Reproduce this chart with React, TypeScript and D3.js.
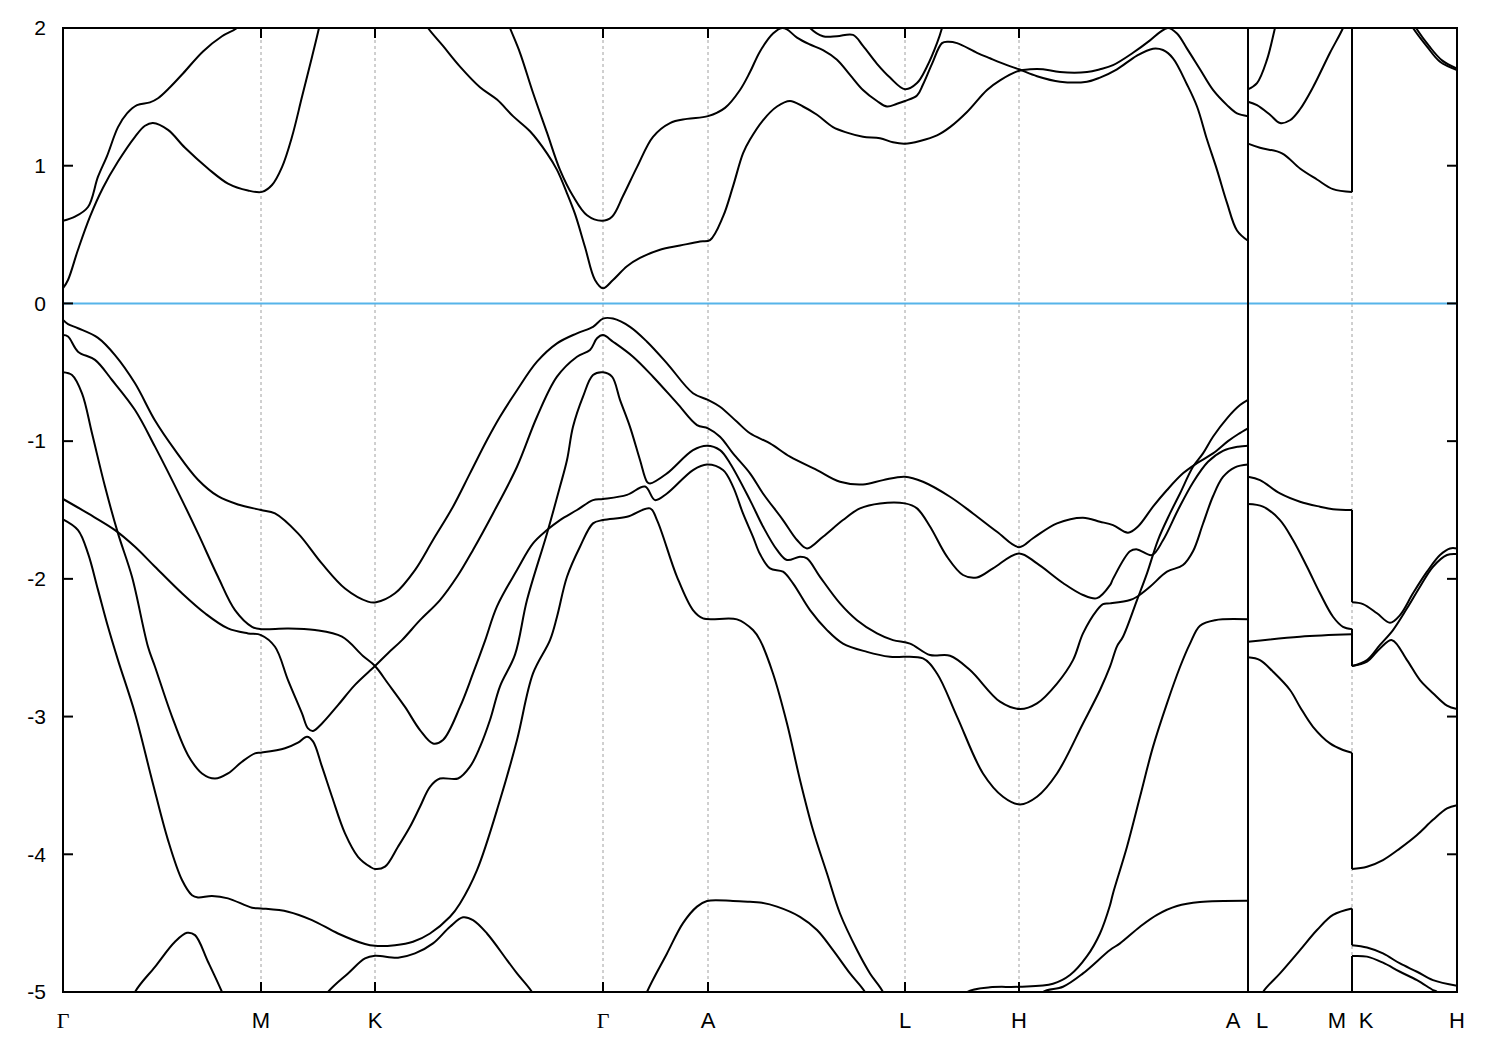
import React from 'react';
import * as d3 from 'd3';

// k-path positions of the high-symmetry points (path length units)
const kPoints = [0, 198, 312, 540, 645, 842, 956, 1185, 1289, 1394];
const kLabels = ['Γ', 'M', 'K', 'Γ', 'A', 'L', 'H', 'A|L', 'M|K', 'H'];
const fullBreaks = [1185];
const yTicks = [-5, -4, -3, -2, -1, 0, 1, 2];
const eRange = [-5, 2];

// ---------- conduction bands ----------
const CA = [[0,0.11],[5,0.17],[15,0.39],[27,0.63],[40,0.84],[55,1.03],[72,1.21],[82,1.29],[90,1.31],[105,1.26],[122,1.13],[145,0.98],[165,0.87],[185,0.82],[199,0.81],[209,0.86],[219,0.99],[229,1.21],[239,1.50],[249,1.79],[256,2.0],[262,2.2]];
const CB = [[0,0.60],[12,0.63],[25,0.70],[35,0.92],[44,1.07],[55,1.28],[64,1.38],[74,1.44],[87,1.46],[95,1.49],[107,1.57],[120,1.67],[140,1.83],[159,1.94],[174,2.0],[187,2.1]];
const CC = [[357,2.1],[365,2.0],[380,1.87],[397,1.72],[417,1.57],[434,1.48],[450,1.36],[467,1.25],[484,1.09],[494,0.97],[504,0.80],[512,0.65],[522,0.41],[532,0.17],[540,0.11],[550,0.17],[564,0.27],[577,0.33],[597,0.39],[617,0.42],[637,0.45],[647,0.46],[660,0.63],[670,0.85],[680,1.09],[687,1.19],[700,1.33],[714,1.43],[727,1.47],[740,1.43],[754,1.37],[770,1.28],[784,1.24],[800,1.21],[817,1.20],[830,1.17],[842,1.16],[857,1.18],[874,1.22],[887,1.28],[904,1.39],[924,1.55],[937,1.62],[956,1.69],[967,1.70],[980,1.70],[997,1.68],[1024,1.68],[1037,1.70],[1050,1.73],[1070,1.82],[1087,1.91],[1097,1.97],[1105,2.0],[1114,1.96],[1124,1.85],[1137,1.70],[1150,1.55],[1164,1.44],[1174,1.38],[1185,1.36]];
const CD = [[442,2.1],[447,2.0],[457,1.82],[470,1.53],[484,1.24],[497,0.97],[510,0.78],[524,0.64],[539,0.60],[549,0.63],[560,0.78],[574,0.99],[590,1.21],[607,1.31],[624,1.34],[645,1.36],[662,1.42],[677,1.55],[687,1.68],[697,1.83],[710,1.96],[719,2.0],[724,1.99],[734,1.93],[747,1.88],[760,1.84],[774,1.77],[787,1.66],[800,1.55],[814,1.47],[824,1.43],[834,1.45],[842,1.47],[854,1.51],[860,1.59],[869,1.74],[879,1.89],[885,1.90],[894,1.89],[914,1.82],[927,1.78],[944,1.73],[956,1.70],[974,1.65],[997,1.61],[1024,1.61],[1037,1.64],[1054,1.70],[1074,1.80],[1090,1.85],[1100,1.84],[1110,1.78],[1124,1.59],[1134,1.43],[1144,1.19],[1154,0.97],[1164,0.73],[1174,0.53],[1185,0.455]];
const CE = [[737,2.1],[747,2.0],[760,1.94],[774,1.94],[790,1.95],[800,1.87],[814,1.74],[827,1.64],[842,1.555],[854,1.60],[864,1.72],[874,1.89],[879,2.0],[882,2.1]];
const RL1 = [[1185,1.555],[1194,1.60],[1204,1.77],[1212,2.0],[1217,2.15]];
const RL2 = [[1185,1.465],[1194,1.44],[1207,1.37],[1217,1.31],[1227,1.33],[1237,1.41],[1250,1.57],[1267,1.82],[1280,2.0],[1285,2.1]];
const RL3 = [[1185,1.16],[1197,1.13],[1219,1.09],[1237,0.98],[1254,0.90],[1270,0.83],[1289,0.81],[1289,2.2]];
const RK1 = [[1342,2.1],[1350,2.0],[1364,1.865],[1377,1.755],[1394,1.695]];
const RK2 = [[1345,2.1],[1353,2.0],[1366,1.87],[1379,1.765],[1394,1.705]];

// ---------- valence bands ----------
const VA = [[0,-0.12],[5,-0.15],[15,-0.18],[35,-0.25],[52,-0.375],[72,-0.58],[92,-0.85],[112,-1.065],[135,-1.28],[155,-1.40],[175,-1.46],[198,-1.50],[212,-1.525],[235,-1.67],[259,-1.89],[282,-2.07],[305,-2.165],[313,-2.17],[332,-2.105],[352,-1.936],[370,-1.718],[390,-1.476],[407,-1.234],[424,-0.992],[437,-0.823],[454,-0.63],[474,-0.423],[494,-0.29],[514,-0.217],[530,-0.17],[540,-0.11],[550,-0.11],[567,-0.17],[584,-0.278],[604,-0.435],[630,-0.652],[645,-0.70],[657,-0.75],[674,-0.86],[687,-0.943],[707,-1.016],[727,-1.113],[754,-1.21],[777,-1.295],[800,-1.314],[820,-1.283],[842,-1.258],[860,-1.295],[887,-1.404],[910,-1.525],[934,-1.658],[956,-1.77],[970,-1.705],[994,-1.597],[1020,-1.556],[1037,-1.585],[1050,-1.61],[1065,-1.665],[1075,-1.62],[1090,-1.476],[1104,-1.355],[1120,-1.234],[1134,-1.16],[1150,-1.089],[1165,-1.0],[1175,-0.95],[1185,-0.907]];
const VB = [[0,-0.23],[5,-0.24],[15,-0.35],[32,-0.41],[49,-0.556],[72,-0.774],[92,-1.04],[119,-1.428],[135,-1.67],[155,-1.985],[172,-2.227],[189,-2.348],[198,-2.365],[225,-2.36],[252,-2.372],[279,-2.42],[300,-2.56],[312,-2.633],[325,-2.76],[342,-2.93],[357,-3.098],[370,-3.195],[380,-3.17],[397,-2.93],[410,-2.687],[422,-2.45],[434,-2.20],[454,-1.936],[470,-1.743],[484,-1.646],[497,-1.573],[514,-1.50],[530,-1.428],[540,-1.42],[564,-1.39],[582,-1.33],[592,-1.428],[604,-1.38],[630,-1.21],[644,-1.17],[660,-1.21],[670,-1.33],[680,-1.525],[690,-1.695],[697,-1.82],[707,-1.924],[720,-1.948],[730,-2.033],[747,-2.227],[764,-2.372],[780,-2.47],[804,-2.53],[827,-2.566],[860,-2.578],[874,-2.687],[894,-3.0],[920,-3.413],[940,-3.582],[957,-3.638],[974,-3.582],[994,-3.413],[1020,-3.05],[1037,-2.807],[1047,-2.638],[1054,-2.49],[1060,-2.42],[1074,-2.154],[1084,-1.96],[1095,-1.718],[1107,-1.525],[1117,-1.38],[1130,-1.186],[1140,-1.089],[1150,-0.968],[1164,-0.834],[1177,-0.738],[1185,-0.70]];
const VC = [[0,-1.42],[25,-1.525],[52,-1.646],[72,-1.767],[92,-1.912],[119,-2.105],[142,-2.25],[165,-2.36],[185,-2.396],[198,-2.408],[212,-2.493],[225,-2.735],[239,-2.977],[245,-3.086],[250,-3.104],[259,-3.05],[275,-2.917],[292,-2.77],[312,-2.633],[325,-2.54],[339,-2.445],[357,-2.30],[377,-2.154],[394,-1.985],[410,-1.79],[430,-1.525],[454,-1.186],[474,-0.823],[494,-0.532],[514,-0.387],[527,-0.338],[534,-0.253],[540,-0.23],[550,-0.278],[570,-0.387],[590,-0.532],[614,-0.724],[634,-0.883],[645,-0.907],[657,-0.968],[670,-1.089],[687,-1.234],[700,-1.38],[720,-1.573],[734,-1.718],[744,-1.779],[760,-1.694],[780,-1.573],[797,-1.488],[817,-1.452],[842,-1.452],[854,-1.488],[867,-1.62],[884,-1.839],[900,-1.972],[914,-1.99],[930,-1.924],[956,-1.815],[974,-1.888],[1000,-2.03],[1020,-2.117],[1034,-2.14],[1047,-2.045],[1050,-2.0],[1067,-1.80],[1074,-1.786],[1089,-1.827],[1100,-1.72],[1115,-1.50],[1130,-1.30],[1145,-1.15],[1160,-1.07],[1175,-1.04],[1185,-1.033]];
const VD = [[0,-0.50],[9,-0.52],[19,-0.653],[29,-0.943],[42,-1.33],[55,-1.67],[69,-1.985],[85,-2.493],[92,-2.638],[109,-3.0],[125,-3.28],[139,-3.413],[152,-3.45],[165,-3.413],[179,-3.328],[192,-3.267],[198,-3.262],[222,-3.23],[235,-3.19],[244,-3.146],[250,-3.18],[259,-3.364],[269,-3.582],[282,-3.848],[295,-4.018],[307,-4.09],[312,-4.107],[322,-4.09],[335,-3.945],[347,-3.80],[357,-3.655],[367,-3.51],[377,-3.45],[395,-3.45],[407,-3.364],[417,-3.22],[427,-3.025],[437,-2.78],[452,-2.55],[464,-2.154],[484,-1.67],[497,-1.33],[504,-1.137],[510,-0.896],[520,-0.677],[530,-0.52],[540,-0.50],[549,-0.532],[557,-0.70],[567,-0.896],[577,-1.137],[584,-1.295],[587,-1.307],[604,-1.234],[630,-1.065],[644,-1.033],[657,-1.065],[667,-1.16],[687,-1.428],[700,-1.62],[714,-1.79],[724,-1.863],[737,-1.839],[744,-1.851],[757,-1.985],[777,-2.178],[794,-2.30],[814,-2.396],[830,-2.445],[847,-2.47],[867,-2.553],[887,-2.558],[907,-2.662],[937,-2.892],[957,-2.945],[974,-2.904],[994,-2.76],[1010,-2.59],[1020,-2.396],[1034,-2.227],[1040,-2.183],[1047,-2.178],[1067,-2.154],[1074,-2.13],[1087,-2.057],[1104,-1.948],[1120,-1.90],[1130,-1.80],[1140,-1.60],[1150,-1.40],[1160,-1.26],[1172,-1.19],[1185,-1.17]];
const VE = [[0,-1.568],[15,-1.646],[25,-1.815],[35,-2.08],[45,-2.348],[55,-2.59],[72,-2.977],[89,-3.46],[105,-3.897],[119,-4.187],[129,-4.297],[135,-4.313],[149,-4.303],[165,-4.32],[189,-4.388],[198,-4.393],[225,-4.417],[249,-4.478],[275,-4.575],[302,-4.652],[312,-4.665],[332,-4.66],[350,-4.635],[367,-4.575],[387,-4.454],[397,-4.357],[414,-4.115],[437,-3.606],[454,-3.17],[470,-2.687],[487,-2.445],[494,-2.275],[504,-1.985],[517,-1.767],[530,-1.597],[540,-1.573],[564,-1.549],[587,-1.488],[594,-1.573],[614,-1.985],[630,-2.227],[640,-2.287],[674,-2.294],[690,-2.372],[697,-2.445],[710,-2.687],[724,-3.05],[737,-3.46],[750,-3.824],[764,-4.14],[777,-4.43],[794,-4.695],[807,-4.865],[820,-5.0],[830,-5.2]];
const VF = [[62,-5.2],[72,-5.0],[92,-4.817],[112,-4.635],[124,-4.57],[132,-4.587],[145,-4.78],[159,-5.0],[167,-5.15]];
const VG = [[252,-5.15],[265,-5.0],[285,-4.865],[302,-4.756],[312,-4.737],[335,-4.751],[352,-4.72],[370,-4.647],[387,-4.526],[400,-4.458],[410,-4.478],[424,-4.575],[444,-4.768],[454,-4.865],[469,-5.0],[477,-5.12]];
const VH = [[577,-5.15],[584,-5.0],[604,-4.72],[620,-4.50],[634,-4.38],[644,-4.339],[670,-4.339],[687,-4.345],[697,-4.35],[714,-4.38],[737,-4.454],[754,-4.55],[770,-4.696],[787,-4.865],[802,-5.0],[812,-5.15]];
const VI = [[892,-5.1],[904,-5.0],[927,-4.966],[956,-4.962],[990,-4.94],[1007,-4.877],[1024,-4.74],[1037,-4.575],[1047,-4.37],[1050,-4.284],[1064,-3.945],[1077,-3.582],[1090,-3.22],[1104,-2.904],[1117,-2.64],[1127,-2.47],[1137,-2.34],[1152,-2.30],[1185,-2.294]];
const VJ = [[972,-5.1],[980,-5.0],[1000,-4.962],[1020,-4.865],[1047,-4.695],[1057,-4.647],[1077,-4.526],[1094,-4.44],[1114,-4.376],[1137,-4.347],[1185,-4.338]];
const RV1 = [[1185,-1.258],[1197,-1.283],[1217,-1.38],[1237,-1.44],[1257,-1.476],[1270,-1.494],[1289,-1.50],[1289,-2.17],[1300,-2.183],[1314,-2.25],[1327,-2.319],[1337,-2.263],[1350,-2.105],[1364,-1.948],[1377,-1.827],[1387,-1.779],[1394,-1.779]];
const RV2 = [[1185,-1.457],[1200,-1.476],[1217,-1.573],[1230,-1.718],[1244,-1.912],[1257,-2.105],[1270,-2.275],[1280,-2.348],[1289,-2.365],[1289,-2.633],[1304,-2.59],[1317,-2.48],[1330,-2.372],[1344,-2.214],[1357,-2.057],[1370,-1.912],[1384,-1.827],[1394,-1.82]];
const RV3 = [[1185,-2.457],[1237,-2.42],[1289,-2.403],[1289,-2.633],[1304,-2.602],[1317,-2.505],[1329,-2.445],[1344,-2.59],[1357,-2.735],[1370,-2.83],[1384,-2.92],[1394,-2.945]];
const RV4 = [[1185,-2.57],[1197,-2.59],[1210,-2.674],[1227,-2.807],[1237,-2.93],[1250,-3.074],[1267,-3.195],[1280,-3.243],[1289,-3.262],[1289,-4.107],[1304,-4.09],[1320,-4.042],[1337,-3.957],[1354,-3.86],[1370,-3.75],[1384,-3.667],[1394,-3.643]];
const RV5 = [[1195,-5.1],[1200,-5.0],[1217,-4.865],[1237,-4.696],[1254,-4.55],[1270,-4.44],[1289,-4.393],[1289,-4.66],[1304,-4.677],[1320,-4.72],[1337,-4.793],[1354,-4.853],[1370,-4.914],[1394,-4.955]];
const RV6 = [[1289,-5.2],[1289,-4.739],[1304,-4.743],[1320,-4.787],[1337,-4.853],[1354,-4.914],[1370,-4.986],[1374,-5.0],[1382,-5.1]];

const bands = [CA, CB, CC, CD, CE, RL1, RL2, RL3, RK1, RK2, VA, VB, VC, VD, VE, VF, VG, VH, VI, VJ, RV1, RV2, RV3, RV4, RV5, RV6];

const PLOT = { left: 63, right: 1457, top: 28, bottom: 992 };

export default function App() {
  const x = d3.scaleLinear().domain([kPoints[0], kPoints[kPoints.length - 1]]).range([PLOT.left, PLOT.right]);
  const y = d3.scaleLinear().domain(eRange).range([PLOT.bottom, PLOT.top]);
  const smooth = d3.line().x((d) => x(d[0])).y((d) => y(d[1])).curve(d3.curveCatmullRom.alpha(0.5));
  const straight = d3.line().x((d) => x(d[0])).y((d) => y(d[1]));

  const paths: string[] = [];
  bands.forEach((b) => {
    let seg = [b[0]];
    for (let i = 1; i < b.length; i++) {
      if (b[i][0] === b[i - 1][0]) {
        if (seg.length > 1) paths.push(smooth(seg) as string);
        paths.push(straight([b[i - 1], b[i]]) as string);
        seg = [b[i]];
      } else seg.push(b[i]);
    }
    if (seg.length > 1) paths.push(smooth(seg) as string);
  });

  const font = 'Liberation Sans, Arial, sans-serif';
  const serif = 'Liberation Serif, DejaVu Serif, serif';
  const labelNodes: any[] = [];
  kPoints.forEach((k, i) => {
    const parts = kLabels[i].split('|');
    const offs = parts.length === 2 ? [-15, 14] : [0];
    parts.forEach((t, j) => {
      labelNodes.push(
        <text key={`xl${i}-${j}`} x={x(k) + offs[j]} y={1028} textAnchor="middle"
          fontFamily={t === 'Γ' ? serif : font} fontSize={22} fill="#000">{t}</text>
      );
    });
  });

  return (
    <svg width={1500} height={1050} style={{ position: 'absolute', left: 0, top: 0, background: '#fff' }}>
      <defs>
        <clipPath id="plotclip">
          <rect x={PLOT.left} y={PLOT.top} width={PLOT.right - PLOT.left} height={PLOT.bottom - PLOT.top} />
        </clipPath>
      </defs>
      <rect x={0} y={0} width={1500} height={1050} fill="#fff" />
      {kPoints.slice(1, -1).map((k, i) => (
        <line key={`g${i}`} x1={x(k)} x2={x(k)} y1={PLOT.top} y2={PLOT.bottom}
          stroke="#a0a0a0" strokeWidth={1} strokeDasharray="3,3" />
      ))}
      <line x1={PLOT.left} x2={PLOT.right} y1={y(0)} y2={y(0)} stroke="#56b4e9" strokeWidth={2} />
      <g clipPath="url(#plotclip)">
        {paths.map((p, i) => (
          <path key={`b${i}`} d={p} fill="none" stroke="#000" strokeWidth={2} strokeLinejoin="round" />
        ))}
        {fullBreaks.map((k, i) => (
          <line key={`fb${i}`} x1={x(k)} x2={x(k)} y1={PLOT.top} y2={PLOT.bottom} stroke="#000" strokeWidth={2} />
        ))}
      </g>
      {yTicks.map((t) => (
        <g key={`yt${t}`}>
          <line x1={PLOT.left} x2={PLOT.left + 10} y1={y(t)} y2={y(t)} stroke="#000" strokeWidth={2} />
          <line x1={PLOT.right - 10} x2={PLOT.right} y1={y(t)} y2={y(t)} stroke="#000" strokeWidth={2} />
          <text x={46} y={y(t)} dy="0.35em" textAnchor="end" fontFamily={font} fontSize={21} fill="#000">{t}</text>
        </g>
      ))}
      {kPoints.map((k, i) => (
        <g key={`xt${i}`}>
          <line x1={x(k)} x2={x(k)} y1={PLOT.bottom} y2={PLOT.bottom - 10} stroke="#000" strokeWidth={2} />
          <line x1={x(k)} x2={x(k)} y1={PLOT.top} y2={PLOT.top + 10} stroke="#000" strokeWidth={2} />
        </g>
      ))}
      {labelNodes}
      <rect x={PLOT.left} y={PLOT.top} width={PLOT.right - PLOT.left} height={PLOT.bottom - PLOT.top}
        fill="none" stroke="#000" strokeWidth={2} />
    </svg>
  );
}
